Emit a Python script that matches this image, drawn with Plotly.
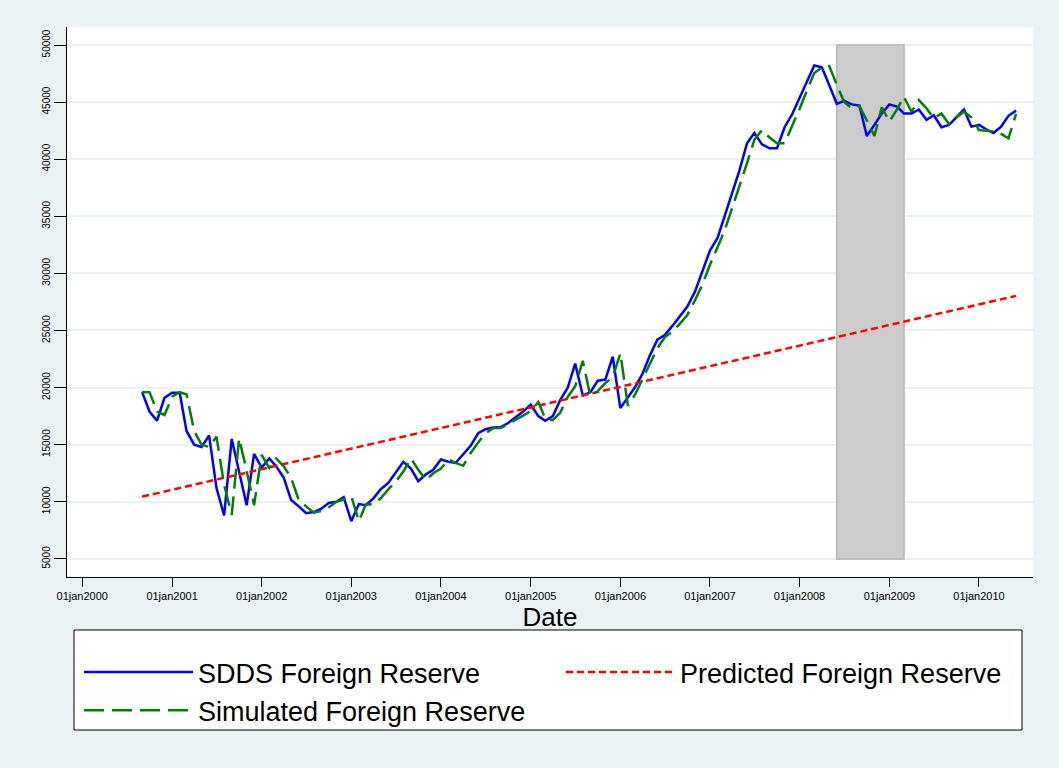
import plotly.graph_objects as go
import pandas as pd

# Monthly dates, Sep 2000 - Jun 2010
dates = pd.date_range("2000-09-01", "2010-06-01", freq="MS")

sdds = [
    19600, 17900, 17100, 19100,                                              # 2000 Sep-Dec
    19550, 19550, 16200, 15000, 14800, 15800, 11200, 8800, 15500, 12600, 9700, 14200,  # 2001
    13000, 13800, 13100, 12100, 10150, 9600, 9000, 9100, 9400, 9900, 10000, 10400,    # 2002
    8300, 9800, 9700, 10300, 11100, 11650, 12600, 13500, 12900, 11800, 12400, 12800,  # 2003
    13700, 13500, 13400, 14200, 14900, 16000, 16350, 16500, 16550, 16900, 17400, 17900,  # 2004
    18500, 17500, 17100, 17500, 18900, 20000, 22100, 19300, 19600, 20600, 20700, 22700,  # 2005
    18200, 19200, 20000, 21200, 22800, 24200, 24600, 25400, 26300, 27100, 28400, 30100,  # 2006
    32000, 33100, 35000, 37100, 39000, 41400, 42300, 41300, 40950, 40950, 42800, 43900,  # 2007
    45400, 46850, 48200, 48050, 46400, 44850, 45100, 44800, 44700, 42030, 43000, 44000,  # 2008
    44800, 44600, 44000, 44000, 44350, 43450, 43850, 42800, 43000, 43700, 44350, 42850,  # 2009
    43000, 42600, 42300, 42850, 43800, 44250,                                # 2010 Jan-Jun
]

simulated = [
    19600, 19600, 17900, 17600,
    19200, 19600, 19400, 16200, 15000, 14800, 15700, 11500, 8850, 15550, 12700, 9700,
    14100, 12950, 13800, 13100, 12100, 10150, 9600, 9050, 9200, 9500, 10000, 10200,
    10500, 8300, 9750, 9800, 10300, 11100, 11750, 12650, 13800, 12800, 11900, 12500,
    12900, 13700, 13400, 13150, 14250, 15200, 16000, 16450, 16450, 16800, 17150, 17550,
    17950, 18750, 17300, 17150, 17800, 19200, 20100, 22350, 19250, 19700, 20400, 20900,
    23000, 18400, 19350, 20700, 22100, 23450, 24400, 24900, 25600, 26350, 27650, 29000,
    30750, 32350, 33700, 35700, 37600, 39650, 41700, 42550, 41900, 41400, 41400, 42850,
    44400, 46060, 47550, 48040, 48160, 46500, 45000, 44450, 44660, 43400, 42030, 44540,
    43300, 44370, 45480, 44160, 45180, 44460, 43580, 44010, 43080, 43670, 44160, 43670,
    42560, 42500, 42410, 42210, 41830, 43960,
]

pred_dates = ["2000-09-01", "2010-06-01"]
predicted = [10450, 28030]

y_ticks = list(range(5000, 50001, 5000))
y_tick_text = [str(v) for v in y_ticks]
x_tick_vals = [f"{y}-01-01" for y in range(2000, 2011)]
x_tick_text = [f"01jan{y}" for y in range(2000, 2011)]
shade_dates = ["2008-06-01", "2009-03-01"]
shade_values = [5000, 50000]

BG = "#EAF2F3"
FONT = "Arial, Liberation Sans, sans-serif"

fig = go.Figure()
fig.add_trace(go.Scatter(x=dates, y=sdds, mode="lines", name="SDDS Foreign Reserve",
                         line=dict(color="#0000ff", width=2.5)))
fig.add_trace(go.Scatter(x=pred_dates, y=predicted, mode="lines", name="Predicted Foreign Reserve",
                         line=dict(color="#ff0000", width=2.5, dash="7px,4px")))
fig.add_trace(go.Scatter(x=dates, y=simulated, mode="lines", name="Simulated Foreign Reserve",
                         line=dict(color="#008000", width=2.5, dash="20px,8px")))

fig.add_shape(type="rect", xref="x", yref="y",
              x0=shade_dates[0], x1=shade_dates[1], y0=shade_values[0], y1=shade_values[1],
              fillcolor="#cccccc", line=dict(color="#bdbdbd", width=2), layer="between")

# legend box
W, H = 1059, 768
L, R, T, B = 67, 26, 27, 191
pw, ph = W - L - R, H - T - B
def px(xp): return (xp - L) / pw
def py(yp): return (H - B - yp) / ph

fig.add_shape(type="rect", xref="paper", yref="paper",
              x0=px(74), x1=px(1022), y0=py(730), y1=py(630),
              fillcolor="white", line=dict(color="black", width=1), layer="below")

fig.update_layout(
    width=W, height=H,
    margin=dict(l=L, r=R, t=T, b=B, autoexpand=False),
    paper_bgcolor=BG, plot_bgcolor="white",
    font=dict(family=FONT, color="black"),
    showlegend=True,
    legend=dict(orientation="h", x=px(79), y=py(648), xanchor="left", yanchor="top",
                bgcolor="rgba(0,0,0,0)", borderwidth=0,
                font=dict(size=27, family=FONT), itemwidth=109,
                entrywidth=358, entrywidthmode="pixels", tracegroupgap=0),
    xaxis=dict(type="date", range=["1999-10-31", "2010-08-09"],
               tickvals=x_tick_vals, ticktext=x_tick_text, tickangle=0,
               tickfont=dict(size=11), ticks="outside", ticklen=9, tickcolor="black",
               showgrid=False, zeroline=False, showline=True, linecolor="black", linewidth=1,
               title=dict(text="Date", font=dict(size=26), standoff=6)),
    yaxis=dict(range=[3413, 51576], tickvals=y_ticks, ticktext=y_tick_text, tickangle=-90,
               tickfont=dict(size=10), ticks="outside", ticklen=12, tickcolor="black",
               showgrid=True, gridcolor=BG, gridwidth=2, zeroline=False,
               showline=True, linecolor="black", linewidth=1),
)

fig.write_html("out.html", config={"displayModeBar": False},
               post_script="document.body.style.margin='0';document.body.style.background='%s';" % BG)
